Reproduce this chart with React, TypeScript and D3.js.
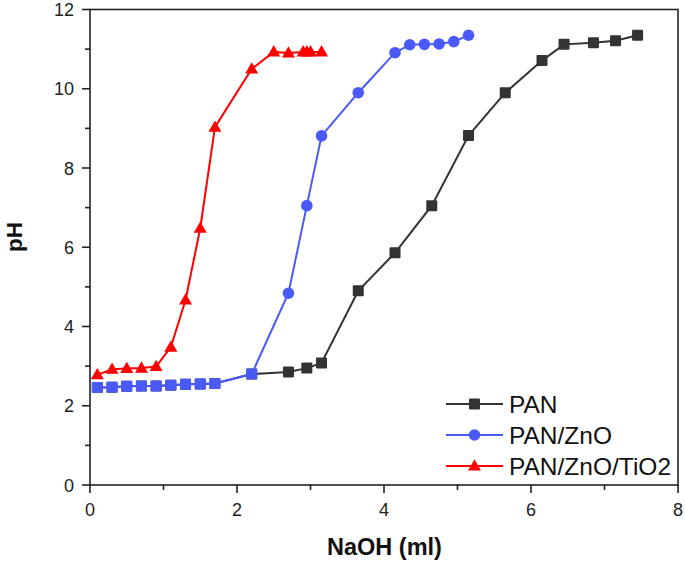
import React from 'react';
import * as d3 from 'd3';

// NaOH volume (ml) and pH readings
const panX = [0.1, 0.3, 0.5, 0.7, 0.9, 1.1, 1.3, 1.5, 1.7, 2.2, 2.7, 2.95, 3.15, 3.65, 4.15, 4.65, 5.15, 5.65, 6.15, 6.45, 6.85, 7.15, 7.45];
const panY = [2.46, 2.47, 2.49, 2.5, 2.5, 2.52, 2.54, 2.55, 2.56, 2.8, 2.85, 2.95, 3.08, 4.9, 5.86, 7.05, 8.82, 9.9, 10.71, 11.12, 11.16, 11.21, 11.35];

const znoX = [0.1, 0.3, 0.5, 0.7, 0.9, 1.1, 1.3, 1.5, 1.7, 2.2, 2.7, 2.95, 3.15, 3.65, 4.15, 4.35, 4.55, 4.75, 4.95, 5.15];
const znoY = [2.46, 2.47, 2.49, 2.5, 2.5, 2.52, 2.54, 2.55, 2.56, 2.8, 4.84, 7.05, 8.81, 9.9, 10.91, 11.11, 11.12, 11.13, 11.19, 11.35];

const tioX = [0.1, 0.3, 0.5, 0.7, 0.9, 1.1, 1.3, 1.5, 1.7, 2.2, 2.5, 2.7, 2.9, 2.95, 3.0, 3.15];
const tioY = [2.78, 2.92, 2.94, 2.95, 2.99, 3.48, 4.67, 6.48, 9.03, 10.5, 10.93, 10.9, 10.93, 10.93, 10.93, 10.93];

const xTicks = [0, 2, 4, 6, 8];
const xMinor = [1, 3, 5, 7];
const yTicks = [0, 2, 4, 6, 8, 10, 12];
const yMinor = [1, 3, 5, 7, 9, 11];

const seriesNames = ['PAN', 'PAN/ZnO', 'PAN/ZnO/TiO2'];
const seriesColors = ['#333333', '#4a5af8', '#ff0000'];

const W = 685;
const H = 562;
const left = 90;
const right = 678;
const top = 9.5;
const bottom = 485;

const FONT = '"Liberation Sans", Arial, sans-serif';

type Pt = { x: number; y: number };

const zip = (xs: number[], ys: number[]): Pt[] => xs.map((x, i) => ({ x, y: ys[i] }));

const Marker: React.FC<{ shape: string; cx: number; cy: number; color: string }> = ({ shape, cx, cy, color }) => {
  if (shape === 'square') {
    return <rect x={cx - 5.5} y={cy - 5.5} width={11} height={11} rx={1} fill={color} />;
  }
  if (shape === 'circle') {
    return <circle cx={cx} cy={cy} r={5.8} fill={color} />;
  }
  const s = 13;
  const h = s * 0.87;
  return (
    <path
      d={`M${cx},${cy - h * 0.6} L${cx + s / 2},${cy + h * 0.4} L${cx - s / 2},${cy + h * 0.4} Z`}
      fill={color}
    />
  );
};

const App: React.FC = () => {
  const x = d3.scaleLinear().domain([0, 8]).range([left, right]);
  const y = d3.scaleLinear().domain([0, 12]).range([bottom, top]);

  const line = d3.line<Pt>().x(d => x(d.x)).y(d => y(d.y));

  const pan = zip(panX, panY);
  const zno = zip(znoX, znoY);
  const tio = zip(tioX, tioY);

  // PAN/ZnO points sitting on top of PAN points show up as squares
  const sharesPan = (p: Pt) => pan.some(q => q.x === p.x && q.y === p.y);

  const series = [
    { data: pan, shape: 'square', color: seriesColors[0] },
    { data: zno, shape: 'circle', color: seriesColors[1] },
    { data: tio, shape: 'triangle', color: seriesColors[2] },
  ];

  const legendY = [404, 435, 466];

  return (
    <svg
      width={W}
      height={H}
      style={{ position: 'absolute', left: 0, top: 0, background: '#fff' }}
      fontFamily={FONT}
    >
      {series.map((s, i) => (
        <g key={i}>
          <path d={line(s.data) || ''} fill="none" stroke={s.color} strokeWidth={2} />
          {s.data.map((p, j) => (
            <Marker
              key={j}
              shape={i === 1 && sharesPan(p) ? 'square' : s.shape}
              cx={x(p.x)}
              cy={y(p.y)}
              color={s.color}
            />
          ))}
        </g>
      ))}

      {/* frame */}
      <rect x={left} y={top} width={right - left} height={bottom - top} fill="none" stroke="#222" strokeWidth={1.6} />

      {/* x axis ticks */}
      {xTicks.map(t => (
        <g key={'xt' + t}>
          <line x1={x(t)} x2={x(t)} y1={bottom} y2={bottom + 8} stroke="#222" strokeWidth={1.6} />
          <text x={x(t)} y={516} textAnchor="middle" fontSize={18} fill="#222">{t}</text>
        </g>
      ))}
      {xMinor.map(t => (
        <line key={'xm' + t} x1={x(t)} x2={x(t)} y1={bottom} y2={bottom + 5} stroke="#222" strokeWidth={1.6} />
      ))}

      {/* y axis ticks */}
      {yTicks.map(t => (
        <g key={'yt' + t}>
          <line x1={left - 8} x2={left} y1={y(t)} y2={y(t)} stroke="#222" strokeWidth={1.6} />
          <text x={74} y={y(t) + 6.5} textAnchor="end" fontSize={18} fill="#222">{t}</text>
        </g>
      ))}
      {yMinor.map(t => (
        <line key={'ym' + t} x1={left - 5} x2={left} y1={y(t)} y2={y(t)} stroke="#222" strokeWidth={1.6} />
      ))}

      {/* axis titles */}
      <text x={384.5} y={555} textAnchor="middle" fontSize={23.5} fontWeight="bold" fill="#111">NaOH (ml)</text>
      <text
        transform="translate(22, 237) rotate(-90)"
        textAnchor="middle"
        fontSize={22.5}
        fontWeight="bold"
        fill="#111"
      >
        pH
      </text>

      {/* legend */}
      {seriesNames.map((name, i) => (
        <g key={name}>
          <line x1={446} x2={503} y1={legendY[i]} y2={legendY[i]} stroke={seriesColors[i]} strokeWidth={2} />
          <Marker shape={series[i].shape} cx={474.5} cy={legendY[i]} color={seriesColors[i]} />
          <text x={509} y={legendY[i] + 8.5} fontSize={24.5} fill="#111">{name}</text>
        </g>
      ))}
    </svg>
  );
};

export default App;
